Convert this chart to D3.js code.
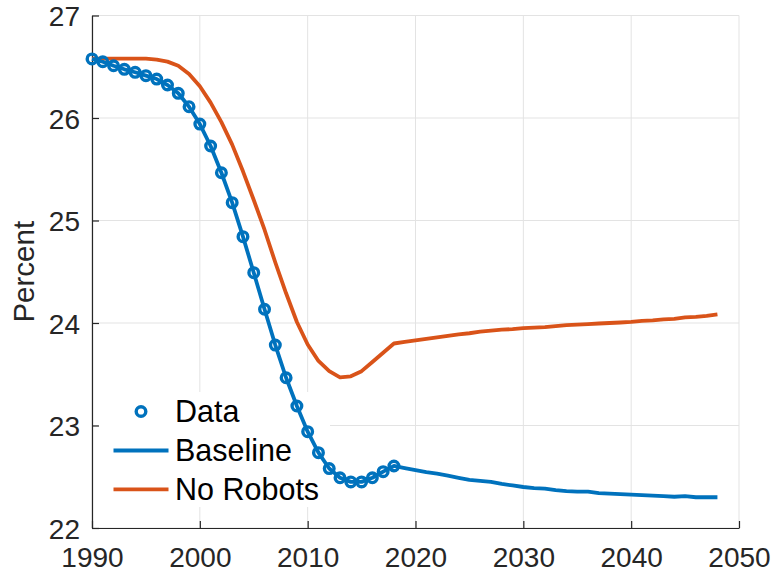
<!DOCTYPE html>
<html><head><meta charset="utf-8">
<script src="https://cdn.jsdelivr.net/npm/d3@7"></script>
<style>
html,body{margin:0;padding:0;background:#fff;}
svg{display:block;font-family:"Liberation Sans",Arial,Helvetica,sans-serif;}
</style></head>
<body>
<svg id="chart" width="774" height="575"></svg>
<script>
// ---- data ----
const dataYears = [1990,1991,1992,1993,1994,1995,1996,1997,1998,1999,2000,2001,2002,2003,2004,2005,2006,2007,2008,2009,2010,2011,2012,2013,2014,2015,2016,2017,2018];
const dataValues = [26.576,26.549,26.51,26.475,26.446,26.413,26.38,26.322,26.241,26.11,25.941,25.727,25.466,25.174,24.842,24.491,24.134,23.785,23.466,23.19,22.94,22.735,22.58,22.49,22.45,22.45,22.49,22.55,22.605];
const projYears = d3.range(1990, 2049);
const baselineValues = [26.576,26.549,26.51,26.475,26.446,26.413,26.38,26.322,26.241,26.11,25.941,25.727,25.466,25.174,24.842,24.491,24.134,23.785,23.466,23.19,22.94,22.735,22.58,22.49,22.45,22.45,22.49,22.55,22.605,
  22.585,22.565,22.545,22.53,22.51,22.49,22.47,22.46,22.45,22.43,22.415,22.40,22.39,22.385,22.37,22.36,22.355,22.355,22.34,22.335,22.33,22.325,22.32,22.315,22.31,22.305,22.31,22.30,22.30,22.30];
const noRobotsValues = [26.58,26.58,26.58,26.58,26.58,26.58,26.57,26.55,26.51,26.43,26.31,26.15,25.96,25.74,25.48,25.20,24.91,24.59,24.29,24.01,23.79,23.63,23.53,23.47,23.48,23.53,23.62,23.71,23.80,
  23.815,23.83,23.845,23.86,23.875,23.89,23.90,23.915,23.925,23.935,23.94,23.95,23.955,23.96,23.97,23.98,23.985,23.99,23.995,24.00,24.005,24.01,24.02,24.025,24.035,24.04,24.055,24.06,24.07,24.085];
const xTicks = [1990,2000,2010,2020,2030,2040,2050];
const yTicks = [22,23,24,25,26,27];
const legendLabels = ["Data","Baseline","No Robots"];
const yLabel = "Percent";

// ---- layout ----
const BLUE = "#0072BD", ORANGE = "#D95319", AXC = "#262626", GRID = "#e3e3e3";
const L = 92, R = 739, T = 15.5, B = 528;
const svg = d3.select("#chart");
const x = d3.scaleLinear().domain([1990,2050]).range([L,R]);
const y = d3.scaleLinear().domain([22,27]).range([B,T]);

// grid
const grid = svg.append("g");
grid.selectAll("line.gx").data(xTicks).join("line")
  .attr("x1",d=>x(d)).attr("x2",d=>x(d)).attr("y1",T).attr("y2",B)
  .attr("stroke",GRID).attr("stroke-width",1);
grid.selectAll("line.gy").data(yTicks).join("line")
  .attr("x1",L).attr("x2",R).attr("y1",d=>y(d)).attr("y2",d=>y(d))
  .attr("stroke",GRID).attr("stroke-width",1);

// legend background
const lg = {x: 98, y: 392, w: 232, h: 115};
svg.append("rect").attr("x",lg.x).attr("y",lg.y).attr("width",lg.w).attr("height",lg.h).attr("fill","#fff");

// axes
const xAxis = svg.append("g").attr("transform",`translate(0,${B})`)
  .call(d3.axisBottom(x).tickValues(xTicks).tickFormat(d3.format("d")).tickSizeInner(-7).tickSizeOuter(0).tickPadding(10));
const yAxis = svg.append("g").attr("transform",`translate(${L},0)`)
  .call(d3.axisLeft(y).tickValues(yTicks).tickFormat(d3.format("d")).tickSizeInner(-7).tickSizeOuter(0).tickPadding(12));
[xAxis,yAxis].forEach(g=>{
  g.select(".domain").attr("stroke",AXC).attr("stroke-width",1.2);
  g.selectAll(".tick line").attr("stroke",AXC).attr("stroke-width",1.2);
  g.selectAll(".tick text").attr("fill",AXC).attr("font-size",28).attr("font-family","Liberation Sans, Arial, sans-serif");
});
xAxis.selectAll(".tick text").attr("dy",null).attr("y",39);
yAxis.selectAll(".tick text").attr("dy","0.36em").attr("x",-12);

// y label
svg.append("text").attr("transform",`translate(34,${(T+B)/2}) rotate(-90)`)
  .attr("text-anchor","middle").attr("font-size",29.5).attr("fill",AXC).text(yLabel);

// lines
const line = d3.line().x(d=>x(d[0])).y(d=>y(d[1]));
svg.append("path").datum(projYears.map((yr,i)=>[yr,noRobotsValues[i]]))
  .attr("d",line).attr("fill","none").attr("stroke",ORANGE).attr("stroke-width",3.8).attr("stroke-linejoin","round");
svg.append("path").datum(projYears.map((yr,i)=>[yr,baselineValues[i]]))
  .attr("d",line).attr("fill","none").attr("stroke",BLUE).attr("stroke-width",3.8).attr("stroke-linejoin","round");
svg.append("g").selectAll("circle").data(dataYears.map((yr,i)=>[yr,dataValues[i]])).join("circle")
  .attr("cx",d=>x(d[0])).attr("cy",d=>y(d[1])).attr("r",4.8)
  .attr("fill","none").attr("stroke",BLUE).attr("stroke-width",3.4);

// legend
const leg = svg.append("g");
leg.append("circle").attr("cx",141).attr("cy",411.5).attr("r",4.8).attr("fill","none").attr("stroke",BLUE).attr("stroke-width",3.4);
leg.append("line").attr("x1",113.5).attr("x2",168.5).attr("y1",450.5).attr("y2",450.5).attr("stroke",BLUE).attr("stroke-width",3.8);
leg.append("line").attr("x1",113.5).attr("x2",168.5).attr("y1",489.3).attr("y2",489.3).attr("stroke",ORANGE).attr("stroke-width",3.8);
const ly = [411.5,450.5,489.3];
leg.selectAll("text").data(legendLabels).join("text")
  .attr("x",175).attr("y",(d,i)=>ly[i]).attr("dy","0.36em")
  .attr("font-size",30.5).attr("fill","#000").text(d=>d);
</script>
</body></html>
